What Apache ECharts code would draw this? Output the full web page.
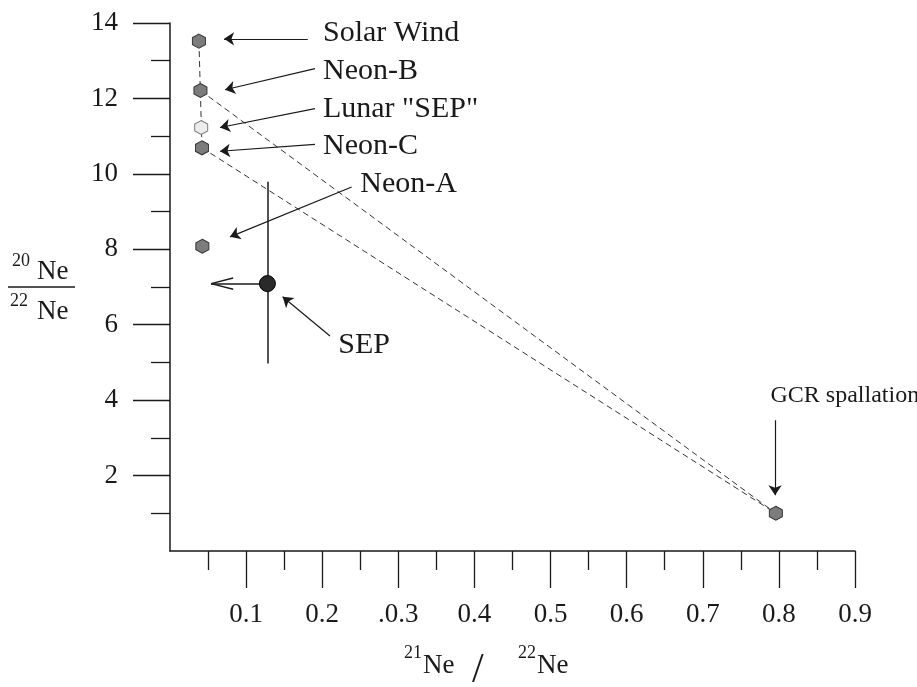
<!DOCTYPE html>
<html>
<head>
<meta charset="utf-8">
<script src="https://cdn.jsdelivr.net/npm/echarts@6/dist/echarts.min.js"></script>
<style>
  html, body { margin: 0; padding: 0; background: #fff; }
  #main { width: 917px; height: 687px; }
</style>
</head>
<body>
<div id="main"></div>
<script>
var FONT = '"Liberation Serif", "DejaVu Serif", serif';
var INK = '#1a1a1a';

// neon end-members: 21Ne/22Ne and 20Ne/22Ne
var names = ['Solar Wind', 'Neon-B', 'Lunar "SEP"', 'Neon-C', 'Neon-A', 'GCR spallation'];
var ne21 = [0.038, 0.040, 0.041, 0.042, 0.0425, 0.796];
var ne20 = [13.52, 12.21, 11.23, 10.69, 8.08, 1.0];

// SEP measurement with its error bars
var sepX = 0.128;
var sepY = 7.09;
var sepYRange = [4.97, 9.79];
var sepXLimit = 0.054;

// dashed mixing lines (index pairs into names)
var mixPairs = [[0, 3], [1, 5], [3, 5]];

// axis ticks
var xTicks = [0.1, 0.2, 0.3, 0.4, 0.5, 0.6, 0.7, 0.8, 0.9];
var xTickLabels = ['0.1', '0.2', '.0.3', '0.4', '0.5', '0.6', '0.7', '0.8', '0.9'];
var yTicks = [2, 4, 6, 8, 10, 12, 14];

// annotations, in data coordinates
var noteText = ['Solar Wind', 'Neon-B', 'Lunar "SEP"', 'Neon-C', 'Neon-A', 'SEP', 'GCR spallation'];
var noteAt = [[0.201, 13.73], [0.201, 12.72], [0.201, 11.72], [0.201, 10.74], [0.250, 9.72], [0.221, 5.47], [0.789, 4.11]];
var arrowFrom = [[0.181, 13.57], [0.1905, 12.79], [0.1905, 11.73], [0.1905, 10.78], [0.2387, 9.65], [0.2102, 5.70], [0.795, 3.47]];
var arrowTo = [[0.071, 13.58], [0.0723, 12.23], [0.0657, 11.23], [0.0657, 10.60], [0.0788, 8.33], [0.148, 6.74], [0.795, 1.48]];

var hexagon = 'path://M50,0 L93.3,25 L93.3,75 L50,100 L6.7,75 L6.7,25 Z';

var chartDom = document.getElementById('main');
var myChart = echarts.init(chartDom);

var pts = names.map(function (n, i) { return [ne21[i], ne20[i]]; });

var mixData = mixPairs.map(function (p) {
    return { coords: [pts[p[0]], pts[p[1]]] };
});

var errData = [
    { coords: [[sepX, sepYRange[0]], [sepX, sepYRange[1]]] },
    { coords: [[sepX, sepY], [sepXLimit, sepY]] }
];

var arrowData = noteText.map(function (t, i) {
    return { coords: [arrowFrom[i], arrowTo[i]] };
});

var option = {
    animation: false,
    backgroundColor: '#fff',
    grid: {
        left: 170,
        right: 62,
        top: 23,
        bottom: 136,
        outerBoundsMode: 'none'
    },
    xAxis: {
        type: 'value',
        min: 0,
        max: 0.9,
        interval: 0.1,
        splitLine: { show: false },
        axisLine: { lineStyle: { color: INK, width: 1.5 } },
        axisTick: {
            customValues: xTicks,
            length: 37,
            lineStyle: { color: INK, width: 1.3 }
        },
        minorTick: {
            show: true,
            splitNumber: 2,
            length: 19,
            lineStyle: { color: INK, width: 1.3 }
        },
        axisLabel: {
            customValues: xTicks,
            margin: 50,
            fontFamily: FONT,
            fontSize: 27,
            color: INK,
            formatter: function (v) {
                var i = xTicks.findIndex(function (t) { return Math.abs(t - v) < 1e-6; });
                return i < 0 ? '' : xTickLabels[i];
            }
        }
    },
    yAxis: {
        type: 'value',
        min: 0,
        max: 14,
        interval: 2,
        splitLine: { show: false },
        axisLine: { lineStyle: { color: INK, width: 1.5 } },
        axisTick: {
            customValues: yTicks,
            length: 37,
            lineStyle: { color: INK, width: 1.3 }
        },
        minorTick: {
            show: true,
            splitNumber: 2,
            length: 19,
            lineStyle: { color: INK, width: 1.3 }
        },
        axisLabel: {
            customValues: yTicks,
            margin: 52,
            fontFamily: FONT,
            fontSize: 27,
            color: INK
        }
    },
    series: [{
        type: 'lines',
        coordinateSystem: 'cartesian2d',
        data: mixData,
        symbol: 'none',
        lineStyle: { color: '#333', width: 1, type: [6, 4], opacity: 1 },
        z: 2
    }, {
        type: 'lines',
        coordinateSystem: 'cartesian2d',
        data: errData,
        symbol: 'none',
        lineStyle: { color: INK, width: 1.5, opacity: 1 },
        z: 3
    }, {
        type: 'lines',
        coordinateSystem: 'cartesian2d',
        data: [{ coords: [[sepXLimit, sepY], [sepXLimit + 0.029, sepY + 0.15]] },
               { coords: [[sepXLimit, sepY], [sepXLimit + 0.029, sepY - 0.15]] }],
        symbol: 'none',
        lineStyle: { color: INK, width: 1.5, opacity: 1 },
        z: 3
    }, {
        type: 'lines',
        coordinateSystem: 'cartesian2d',
        data: arrowData,
        symbol: ['none', 'arrow'],
        symbolSize: [6, 10],
        lineStyle: { color: INK, width: 1.2, opacity: 1 },
        z: 3
    }, {
        type: 'scatter',
        data: pts.map(function (p, i) {
            return {
                value: p,
                name: names[i],
                itemStyle: i === 2 ? { color: '#ececec', borderColor: '#777' } : null
            };
        }),
        symbol: hexagon,
        symbolSize: [13, 14],
        itemStyle: { color: '#7c7c7c', borderColor: '#333', borderWidth: 1, opacity: 1 },
        z: 5
    }, {
        type: 'scatter',
        data: [[sepX, sepY]],
        symbol: 'circle',
        symbolSize: 16,
        itemStyle: { color: '#2a2a2a', borderColor: '#000', borderWidth: 1, opacity: 1 },
        z: 6
    }, {
        type: 'scatter',
        clip: false,
        data: noteAt.map(function (p, i) {
            return {
                value: p,
                name: noteText[i],
                label: i === noteText.length - 1 ? { fontSize: 24 } : null
            };
        }),
        symbolSize: 0,
        silent: true,
        itemStyle: { opacity: 1 },
        label: {
            show: true,
            position: 'right',
            distance: 0,
            formatter: '{b}',
            fontFamily: FONT,
            fontSize: 30,
            color: INK
        },
        z: 7
    }],
    graphic: [
        { type: 'text', left: 12, top: 252, style: { text: '20', font: '18px ' + FONT, fill: INK } },
        { type: 'text', left: 37, top: 258, style: { text: 'Ne', font: '27px ' + FONT, fill: INK } },
        { type: 'line', shape: { x1: 8, y1: 287, x2: 75, y2: 287 }, style: { stroke: INK, lineWidth: 1.5 } },
        { type: 'text', left: 10, top: 292, style: { text: '22', font: '18px ' + FONT, fill: INK } },
        { type: 'text', left: 37, top: 298, style: { text: 'Ne', font: '27px ' + FONT, fill: INK } },

        { type: 'text', left: 404, top: 644, style: { text: '21', font: '18px ' + FONT, fill: INK } },
        { type: 'text', left: 423, top: 652, style: { text: 'Ne', font: '27px ' + FONT, fill: INK } },
        { type: 'text', left: 472, top: 650, style: { text: '/', font: '42px ' + FONT, fill: INK } },
        { type: 'text', left: 518, top: 644, style: { text: '22', font: '18px ' + FONT, fill: INK } },
        { type: 'text', left: 537, top: 652, style: { text: 'Ne', font: '27px ' + FONT, fill: INK } }
    ]
};

option && myChart.setOption(option);
</script>
</body>
</html>
